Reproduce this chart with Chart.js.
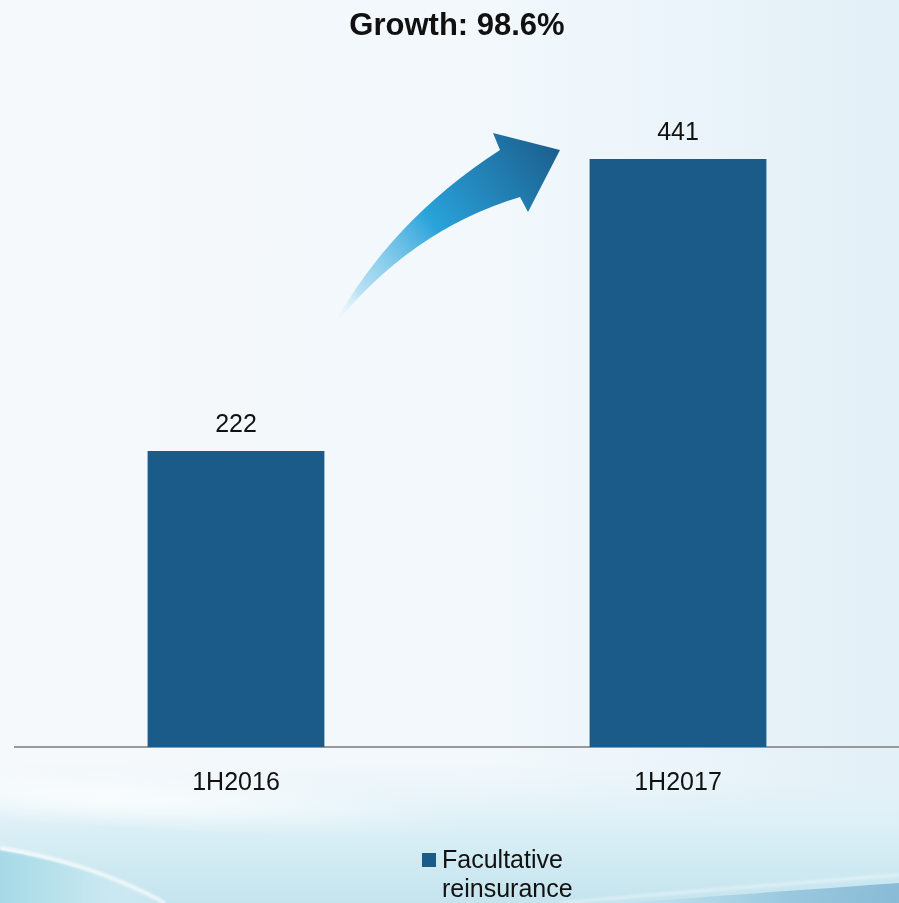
<!DOCTYPE html>
<html>
<head>
<meta charset="utf-8">
<script src="https://cdn.jsdelivr.net/npm/chart.js@4/dist/chart.umd.min.js"></script>
<style>
  html, body { margin: 0; padding: 0; }
  body { width: 899px; height: 903px; overflow: hidden; position: relative; font-family: "Liberation Sans", Arial, sans-serif; }
  #bg { position: absolute; left: 0; top: 0; }
  #wrap { position: absolute; left: 0; top: 0; width: 899px; height: 903px; }
</style>
</head>
<body>
<svg id="bg" width="899" height="903" xmlns="http://www.w3.org/2000/svg">
  <defs>
    <linearGradient id="g1" x1="0" y1="0" x2="1" y2="0">
      <stop offset="0" stop-color="#f6f9fc"/>
      <stop offset="0.55" stop-color="#f2f8fc"/>
      <stop offset="1" stop-color="#e2f0f7"/>
    </linearGradient>
    <linearGradient id="g2" x1="0" y1="0" x2="0" y2="1">
      <stop offset="0" stop-color="#e8f4f9" stop-opacity="0"/>
      <stop offset="0.45" stop-color="#dcf0f6"/>
      <stop offset="1" stop-color="#c4e4ee"/>
    </linearGradient>
    <radialGradient id="g3" cx="0.3" cy="0.5" r="0.6">
      <stop offset="0" stop-color="#ffffff" stop-opacity="0.95"/>
      <stop offset="1" stop-color="#ffffff" stop-opacity="0"/>
    </radialGradient>
    <linearGradient id="g4" x1="0" y1="0" x2="1" y2="0">
      <stop offset="0" stop-color="#a6dae6"/>
      <stop offset="0.6" stop-color="#c7e7f0"/>
      <stop offset="1" stop-color="#d6eef4" stop-opacity="0"/>
    </linearGradient>
    <linearGradient id="g5" x1="0" y1="0" x2="1" y2="0">
      <stop offset="0" stop-color="#8fc3dc" stop-opacity="0"/>
      <stop offset="0.6" stop-color="#86bcd8"/>
      <stop offset="1" stop-color="#6fa9cc"/>
    </linearGradient>
    <filter id="blur"><feGaussianBlur stdDeviation="10"/></filter>
    <filter id="blur2"><feGaussianBlur stdDeviation="1.5"/></filter>
  </defs>
  <rect width="899" height="903" fill="url(#g1)"/>
  <path d="M0,765 Q420,745 899,795 L899,903 L0,903 Z" fill="url(#g2)"/>
  <ellipse cx="230" cy="805" rx="300" ry="22" fill="url(#g3)" filter="url(#blur)" transform="rotate(3 230 805)"/>
  <path d="M0,850 Q90,865 165,903 L0,903 Z" fill="url(#g4)"/>
  <path d="M0,848 Q90,862 165,903" stroke="#ffffff" stroke-width="3" fill="none" opacity="0.9" filter="url(#blur2)"/>
  <path d="M620,903 Q800,890 899,883 L899,903 Z" fill="url(#g5)" opacity="0.7"/>
  <path d="M560,903 Q780,884 899,875" stroke="#ffffff" stroke-width="2" fill="none" opacity="0.6" filter="url(#blur2)"/>
</svg>
<div id="wrap"><canvas id="c" width="899" height="903"></canvas></div>
<script>
const categories = ["1H2016", "1H2017"];
const seriesName = ["Facultative", "reinsurance"];
const seriesValues = [222, 441];
const titleText = "Growth: 98.6%";
const yMax = 500;

const arrowPlugin = {
  id: "arrow",
  beforeDatasetsDraw(chart) {
    const ctx = chart.ctx;
    ctx.save();
    const grad = ctx.createLinearGradient(332, 328, 560, 150);
    grad.addColorStop(0, "rgba(255,255,255,0)");
    grad.addColorStop(0.15, "rgba(160,215,240,0.7)");
    grad.addColorStop(0.5, "#29a2da");
    grad.addColorStop(1, "#1b5f8e");
    ctx.fillStyle = grad;
    ctx.beginPath();
    ctx.moveTo(332, 328);
    ctx.quadraticCurveTo(390, 221, 500, 150);
    ctx.lineTo(493, 133);
    ctx.lineTo(560, 150);
    ctx.lineTo(528, 212);
    ctx.lineTo(520, 197);
    ctx.quadraticCurveTo(410, 230, 332, 328);
    ctx.closePath();
    ctx.fill();
    ctx.restore();
  }
};

const labelPlugin = {
  id: "valueLabels",
  afterDatasetsDraw(chart) {
    const ctx = chart.ctx;
    const meta = chart.getDatasetMeta(0);
    ctx.save();
    ctx.font = '25px "Liberation Sans", Arial, sans-serif';
    ctx.fillStyle = "#111111";
    ctx.textAlign = "center";
    ctx.textBaseline = "alphabetic";
    meta.data.forEach((bar, i) => {
      ctx.fillText(String(chart.data.datasets[0].data[i]), bar.x, bar.y - 19);
    });
    ctx.restore();
  }
};

const legendPlugin = {
  id: "customLegend",
  afterDraw(chart) {
    const ctx = chart.ctx;
    const ds = chart.data.datasets[0];
    const lines = ds.label;
    ctx.save();
    ctx.fillStyle = ds.backgroundColor;
    ctx.fillRect(422, 853, 14, 14);
    ctx.font = '25px "Liberation Sans", Arial, sans-serif';
    ctx.fillStyle = "#111111";
    ctx.textAlign = "left";
    ctx.textBaseline = "alphabetic";
    lines.forEach((t, i) => ctx.fillText(t, 442, 868 + i * 29));
    ctx.restore();
  }
};

new Chart(document.getElementById("c"), {
  type: "bar",
  data: {
    labels: categories,
    datasets: [{
      label: seriesName,
      data: seriesValues,
      backgroundColor: "#1b5b8a",
      borderWidth: 0,
      barPercentage: 0.4,
      categoryPercentage: 1.0
    }]
  },
  options: {
    responsive: false,
    animation: false,
    devicePixelRatio: 1,
    layout: { padding: { left: 15, right: 0, top: 0, bottom: 84 } },
    plugins: {
      legend: { display: false },
      tooltip: { enabled: false },
      title: {
        display: true,
        text: titleText,
        color: "#111111",
        font: { family: '"Liberation Sans", Arial, sans-serif', size: 31, weight: "bold" },
        padding: { top: 8, bottom: 35 }
      }
    },
    scales: {
      y: { display: false, min: 0, max: yMax },
      x: {
        grid: { display: false, drawTicks: false },
        border: { display: true, color: "#999999", width: 2 },
        ticks: {
          color: "#111111",
          padding: 21,
          font: { family: '"Liberation Sans", Arial, sans-serif', size: 25 }
        }
      }
    }
  },
  plugins: [arrowPlugin, labelPlugin, legendPlugin]
});
</script>
</body>
</html>
